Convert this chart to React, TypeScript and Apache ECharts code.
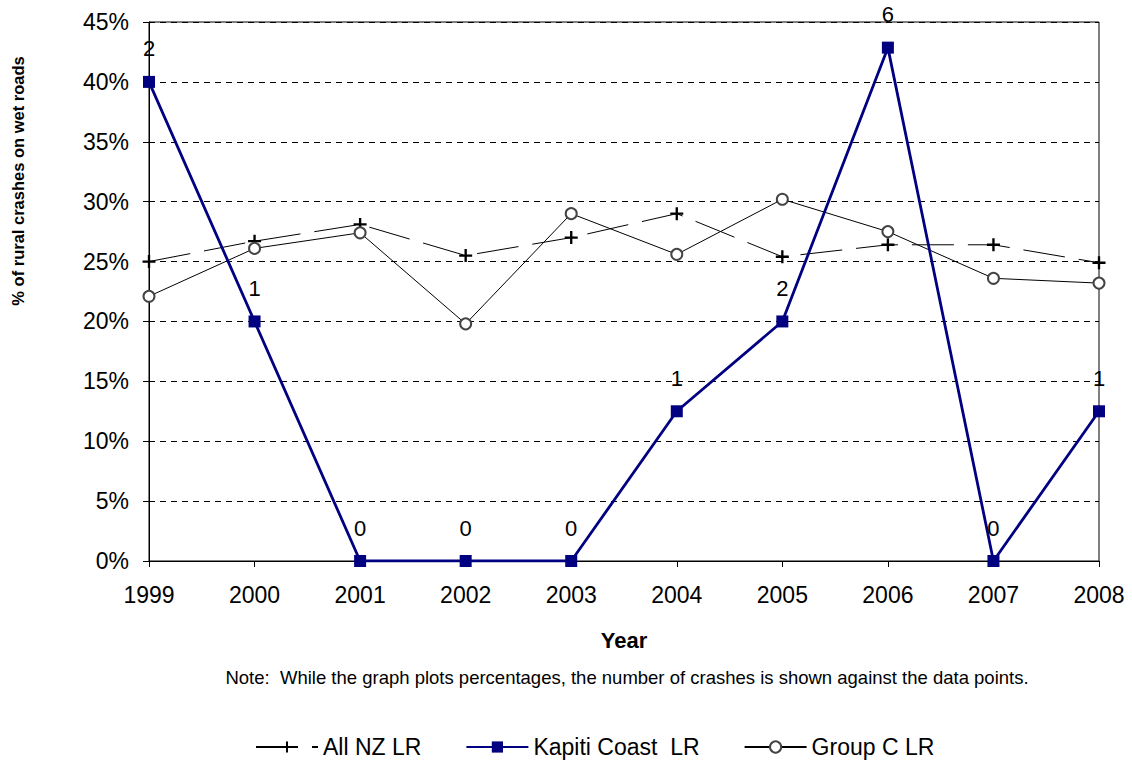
import React, { useEffect, useRef } from "react";
import * as echarts from "echarts";

const years = ["1999", "2000", "2001", "2002", "2003", "2004", "2005", "2006", "2007", "2008"];
const allNZ = [25.0, 26.7, 28.1, 25.5, 27.0, 29.0, 25.4, 26.4, 26.4, 24.9];
const kapiti = [40.0, 20.0, 0, 0, 0, 12.5, 20.0, 42.86, 0, 12.5];
const kapitiCounts = [2, 1, 0, 0, 0, 1, 2, 6, 0, 1];
const groupC = [22.1, 26.1, 27.4, 19.8, 29.0, 25.6, 30.2, 27.5, 23.6, 23.2];
const seriesNames = ["All NZ LR", "Kapiti Coast  LR", "Group C LR"];
const yTitle = "% of rural crashes on wet roads";
const xTitle = "Year";
const note = "Note:  While the graph plots percentages, the number of crashes is shown against the data points.";

const FONT = "'Liberation Sans', Arial, sans-serif";
const PLUS = "path://M4.1,0H5.9V4.1H10V5.9H5.9V10H4.1V5.9H0V4.1H4.1Z";

export default function App() {
  const ref = useRef<HTMLDivElement>(null);
  useEffect(() => {
    if (!ref.current) return;
    const chart = echarts.init(ref.current, null, { renderer: "svg" });
    chart.setOption({
      animation: false,
      backgroundColor: "#fff",
      textStyle: { fontFamily: FONT, color: "#000" },
      grid: {
        left: 149,
        right: 33,
        top: 22,
        bottom: 199,
        show: true,
        borderColor: "#000",
        borderWidth: 1,
        backgroundColor: "transparent",
      },
      legend: {
        data: seriesNames,
        left: 255,
        top: 735,
        padding: 0,
        itemWidth: 62,
        itemHeight: 14,
        itemGap: 44,
        textStyle: { fontSize: 23, lineHeight: 24, color: "#000", fontFamily: FONT },
      },
      xAxis: {
        type: "category",
        data: years,
        boundaryGap: false,
        name: xTitle,
        nameLocation: "middle",
        nameGap: 68,
        nameTextStyle: { fontSize: 22, fontWeight: "bold", color: "#000", fontFamily: FONT },
        axisLine: { lineStyle: { color: "#000", width: 1 } },
        axisTick: { show: true, length: 6, lineStyle: { color: "#000" } },
        axisLabel: { fontSize: 23, color: "#000", margin: 22, fontFamily: FONT },
        splitLine: { show: false },
      },
      yAxis: {
        type: "value",
        min: 0,
        max: 45,
        interval: 5,
        axisLine: { show: true, lineStyle: { color: "#000", width: 1 } },
        axisTick: { show: true, length: 6, lineStyle: { color: "#000" } },
        axisLabel: { fontSize: 23, color: "#000", margin: 20, formatter: "{value}%", fontFamily: FONT },
        splitLine: { show: true, lineStyle: { color: "#000", type: [6, 5], width: 1 } },
      },
      graphic: [
        {
          type: "text",
          x: 18,
          y: 181,
          rotation: Math.PI / 2,
          style: {
            text: yTitle,
            fontSize: 16.5,
            fontWeight: "bold",
            fontFamily: FONT,
            fill: "#000",
            align: "center",
            verticalAlign: "middle",
          },
        },
        {
          type: "text",
          x: 627,
          y: 677,
          style: {
            text: note,
            fontSize: 18.5,
            fontFamily: FONT,
            fill: "#000",
            align: "center",
            verticalAlign: "middle",
          },
        },
      ],
      series: [
        {
          name: seriesNames[0],
          type: "line",
          data: allNZ,
          symbol: PLUS,
          symbolSize: 13,
          itemStyle: { color: "#000" },
          lineStyle: { color: "#000", width: 1, type: [42, 14] },
          z: 3,
        },
        {
          name: seriesNames[1],
          type: "line",
          data: kapiti,
          symbol: "rect",
          symbolSize: 12,
          itemStyle: { color: "#000080" },
          lineStyle: { color: "#000080", width: 2.8 },
          label: {
            show: true,
            position: "top",
            distance: 16,
            fontSize: 22,
            color: "#000",
            fontFamily: FONT,
            formatter: (p: any) => String(kapitiCounts[p.dataIndex]),
          },
          z: 4,
        },
        {
          name: seriesNames[2],
          type: "line",
          data: groupC,
          symbol: "emptyCircle",
          symbolSize: 11,
          itemStyle: { color: "#444", borderColor: "#444", borderWidth: 1.8 },
          lineStyle: { color: "#000", width: 1 },
          z: 3,
        },
      ],
    });
    return () => chart.dispose();
  }, []);
  return (
    <div
      ref={ref}
      style={{ position: "absolute", left: 0, top: 0, width: 1132, height: 760 }}
    />
  );
}
